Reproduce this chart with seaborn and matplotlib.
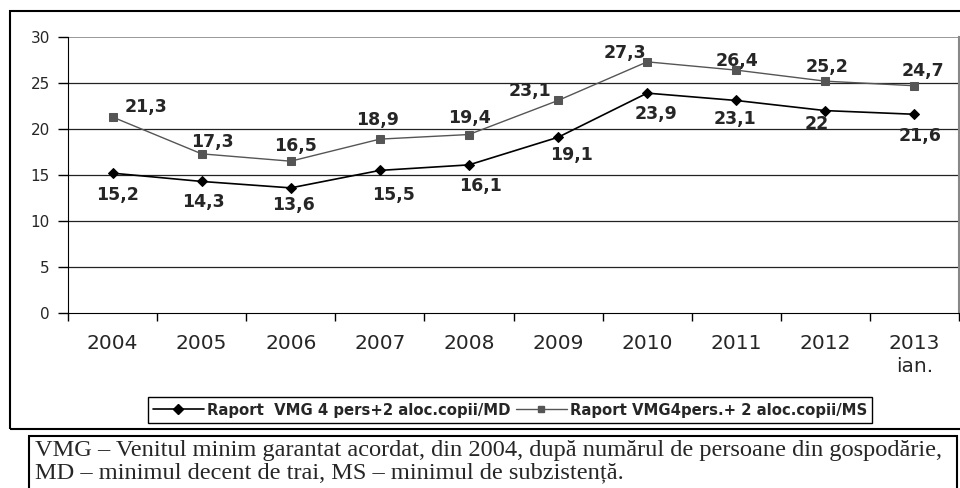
import pandas as pd
import matplotlib.pyplot as plt
import seaborn as sns
from matplotlib.patches import Rectangle
from matplotlib.lines import Line2D

# Chart data
years = ["2004", "2005", "2006", "2007", "2008", "2009", "2010", "2011", "2012", "2013\nian."]
md_values = [15.2, 14.3, 13.6, 15.5, 16.1, 19.1, 23.9, 23.1, 22.0, 21.6]
ms_values = [21.3, 17.3, 16.5, 18.9, 19.4, 23.1, 27.3, 26.4, 25.2, 24.7]
md_label = "Raport  VMG 4 pers+2 aloc.copii/MD"
ms_label = "Raport VMG4pers.+ 2 aloc.copii/MS"
y_ticks = [0, 5, 10, 15, 20, 25, 30]
footnote = ("VMG – Venitul minim garantat acordat, din 2004, după numărul de persoane din gospodărie,\n"
            "MD – minimul decent de trai, MS – minimul de subzistență.")

# label offsets in pixels (dx, dy)
md_offsets = [(5, -22), (2, -21), (3, -17), (14, -25), (12, -21), (13, -18), (9, -21), (-1, -19), (-9, -13), (6, -22)]
ms_offsets = [(33, 10), (11, 12), (5, 15), (-2, 19), (0, 17), (-28, 9), (-22, 9), (1, 9), (2, 14), (8, 15)]

sns.set_style("white")
plt.rcParams['font.family'] = ['DejaVu Sans']

data = pd.DataFrame({"x": range(len(years)), "md": md_values, "ms": ms_values})

fig = plt.figure(figsize=(9.6, 4.88), dpi=100)
ax = fig.add_axes([68 / 960, 1 - 313 / 488, 891 / 960, 276 / 488])

sns.lineplot(data=data, x="x", y="md", ax=ax, color="black", marker="D",
             markersize=5.5, linewidth=1.2, markeredgecolor="black", zorder=3)
sns.lineplot(data=data, x="x", y="ms", ax=ax, color="#555555", marker="s",
             markersize=6, linewidth=1.0, markeredgecolor="#555555", zorder=3)

fmt = lambda v: (f"{v:g}").replace(".", ",")
for i, v in enumerate(md_values):
    ax.annotate(fmt(v), (i, v), xytext=md_offsets[i], textcoords="offset pixels",
                ha="center", va="center", fontsize=12.5, fontweight="bold")
for i, v in enumerate(ms_values):
    ax.annotate(fmt(v), (i, v), xytext=ms_offsets[i], textcoords="offset pixels",
                ha="center", va="center", fontsize=12.5, fontweight="bold")

ax.set_xlim(-0.5, len(years) - 0.5)
ax.set_ylim(0, 30)
ax.set_xticks([i - 0.5 for i in range(len(years) + 1)])
ax.set_xticklabels([])
ax.set_xticks(range(len(years)), minor=True)
ax.set_xticklabels(years, minor=True, fontsize=14.5, linespacing=1.3)
ax.tick_params(axis="x", which="minor", length=0, pad=15)
ax.tick_params(axis="x", which="major", length=6, width=1, color="black", direction="out", bottom=True)
ax.set_yticks(y_ticks)
ax.set_yticklabels([str(t) for t in y_ticks], fontsize=11)
ax.tick_params(axis="y", length=7, width=1, color="black", direction="out", left=True, pad=6)
ax.set_xlabel("")
ax.set_ylabel("")

for t in y_ticks[1:-1]:
    ax.axhline(t, color="#222222", linewidth=0.9, zorder=0)
ax.axhline(30, color="#888888", linewidth=1.2, zorder=0)
ax.spines["left"].set_color("black")
ax.spines["bottom"].set_color("black")
ax.spines["top"].set_visible(False)
ax.spines["right"].set_color("#888888")
ax.spines["right"].set_linewidth(1.5)

if ax.get_legend():
    ax.get_legend().remove()

# legend
handles = [Line2D([], [], color="black", marker="D", markersize=5, linewidth=1.2),
           Line2D([], [], color="#555555", marker="s", markersize=5, linewidth=1.0)]
fig.legend(handles, [md_label, ms_label], loc="center", bbox_to_anchor=(510 / 960, 1 - 410 / 488),
           ncol=2, frameon=True, fancybox=False, edgecolor="black", framealpha=1,
           prop={"weight": "bold", "size": 10.7}, handlelength=3.4, columnspacing=0.4,
           handletextpad=0.2, borderpad=0.35, borderaxespad=0)

# outer chart frame and footnote box
fig.patches.append(Rectangle((10 / 960, 1 - 429 / 488), 960 / 960, 418 / 488, transform=fig.transFigure,
                             fill=False, edgecolor="black", linewidth=1.5))
fig.patches.append(Rectangle((29 / 960, -10 / 488), 928 / 960, 62 / 488, transform=fig.transFigure,
                             fill=False, edgecolor="black", linewidth=1.5))
fig.text(35 / 960, 1 - 462 / 488, footnote, ha="left", va="center", fontsize=17.55,
         family="Liberation Serif", linespacing=1.1)

fig.savefig("out.png", dpi=100)
